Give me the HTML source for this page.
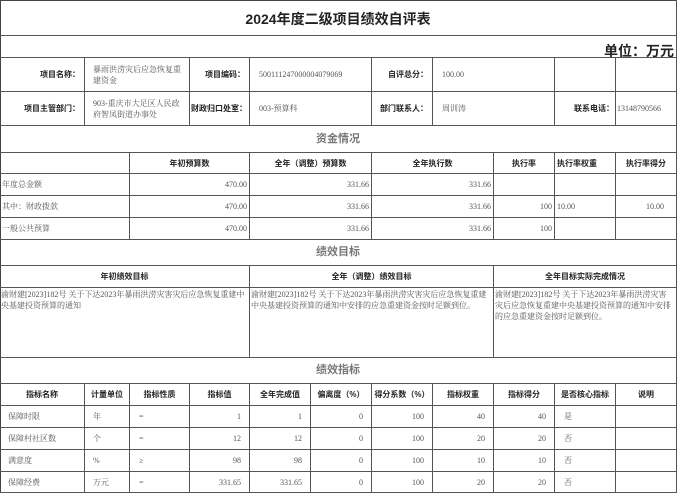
<!DOCTYPE html><html><head><meta charset="utf-8"><style>
body{margin:0;width:677px;height:493px;background:#fff;overflow:hidden;position:relative;font-family:"Liberation Serif","Noto Serif CJK SC",serif}
.c{position:absolute;box-sizing:border-box;border-right:1px solid #555;border-bottom:1px solid #555;font-size:8px;color:#555;display:flex;align-items:center;padding:0 2px;line-height:11px;overflow:hidden}
.h{font-family:"Liberation Sans","Noto Sans CJK SC",sans-serif;font-weight:bold;color:#222;justify-content:center;white-space:nowrap}
.r{justify-content:flex-end}
.hr{font-family:"Liberation Sans","Noto Sans CJK SC",sans-serif;font-weight:bold;color:#222;justify-content:flex-end;padding-right:4px;white-space:nowrap}
.s{font-family:"Liberation Sans","Noto Sans CJK SC",sans-serif;font-size:11px;font-weight:bold;color:#777;justify-content:center}
.t{align-items:flex-start;padding-top:1px}
#f{position:absolute;left:0;top:0;width:677px;height:493px;box-sizing:border-box;border-left:1px solid #444;border-top:1px solid #444}
</style></head><body><div id="f"></div>
<div class="c h" style="left:0;top:0;width:677px;height:36px;font-size:14px;padding-top:3px">2024年度二级项目绩效自评表</div>
<div class="c hr" style="left:0;top:36px;width:677px;height:22px;font-size:14px;align-items:flex-end;padding-right:2px">单位：万元</div>
<div class="c hr" style="left:0;top:58px;width:85px;height:34px">项目名称：</div>
<div class="c" style="left:85px;top:58px;width:105px;height:34px;padding-left:8px">暴雨洪涝灾后应急恢复重建资金</div>
<div class="c hr" style="left:190px;top:58px;width:60px;height:34px">项目编码：</div>
<div class="c" style="left:250px;top:58px;width:122px;height:34px;padding-left:9px">500111247000004079069</div>
<div class="c hr" style="left:372px;top:58px;width:61px;height:34px">自评总分：</div>
<div class="c" style="left:433px;top:58px;width:122px;height:34px;padding-left:9px">100.00</div>
<div class="c" style="left:555px;top:58px;width:61px;height:34px"></div>
<div class="c" style="left:616px;top:58px;width:61px;height:34px"></div>
<div class="c hr" style="left:0;top:92px;width:85px;height:34px">项目主管部门：</div>
<div class="c" style="left:85px;top:92px;width:105px;height:34px;padding-left:8px">903-重庆市大足区人民政府智凤街道办事处</div>
<div class="c hr" style="left:190px;top:92px;width:60px;height:34px;padding-right:2px">财政归口处室：</div>
<div class="c" style="left:250px;top:92px;width:122px;height:34px;padding-left:9px">003-预算科</div>
<div class="c hr" style="left:372px;top:92px;width:61px;height:34px">部门联系人：</div>
<div class="c" style="left:433px;top:92px;width:122px;height:34px;padding-left:9px">周训涛</div>
<div class="c hr" style="left:555px;top:92px;width:61px;height:34px;padding-right:1px">联系电话：</div>
<div class="c" style="left:616px;top:92px;width:61px;height:34px;padding-left:1px">13148790566</div>
<div class="c s" style="left:0;top:126px;width:677px;height:27px">资金情况</div>
<div class="c" style="left:0;top:153px;width:130px;height:21px"></div>
<div class="c h" style="left:130px;top:153px;width:120px;height:21px">年初预算数</div>
<div class="c h" style="left:250px;top:153px;width:122px;height:21px">全年（调整）预算数</div>
<div class="c h" style="left:372px;top:153px;width:122px;height:21px">全年执行数</div>
<div class="c h" style="left:494px;top:153px;width:61px;height:21px">执行率</div>
<div class="c h" style="left:555px;top:153px;width:61px;height:21px;justify-content:flex-start">执行率权重</div>
<div class="c h" style="left:616px;top:153px;width:61px;height:21px">执行率得分</div>
<div class="c" style="left:0;top:174px;width:130px;height:22px">年度总金额</div>
<div class="c r" style="left:130px;top:174px;width:120px;height:22px">470.00</div>
<div class="c r" style="left:250px;top:174px;width:122px;height:22px">331.66</div>
<div class="c r" style="left:372px;top:174px;width:122px;height:22px">331.66</div>
<div class="c" style="left:494px;top:174px;width:61px;height:22px"></div>
<div class="c" style="left:555px;top:174px;width:61px;height:22px"></div>
<div class="c" style="left:616px;top:174px;width:61px;height:22px"></div>
<div class="c" style="left:0;top:196px;width:130px;height:22px">其中：财政拨款</div>
<div class="c r" style="left:130px;top:196px;width:120px;height:22px">470.00</div>
<div class="c r" style="left:250px;top:196px;width:122px;height:22px">331.66</div>
<div class="c r" style="left:372px;top:196px;width:122px;height:22px">331.66</div>
<div class="c r" style="left:494px;top:196px;width:61px;height:22px">100</div>
<div class="c" style="left:555px;top:196px;width:61px;height:22px">10.00</div>
<div class="c r" style="left:616px;top:196px;width:61px;height:22px;padding-right:12px">10.00</div>
<div class="c" style="left:0;top:218px;width:130px;height:22px">一般公共预算</div>
<div class="c r" style="left:130px;top:218px;width:120px;height:22px">470.00</div>
<div class="c r" style="left:250px;top:218px;width:122px;height:22px">331.66</div>
<div class="c r" style="left:372px;top:218px;width:122px;height:22px">331.66</div>
<div class="c r" style="left:494px;top:218px;width:61px;height:22px">100</div>
<div class="c" style="left:555px;top:218px;width:61px;height:22px"></div>
<div class="c" style="left:616px;top:218px;width:61px;height:22px"></div>
<div class="c s" style="left:0;top:240px;width:677px;height:26px">绩效目标</div>
<div class="c h" style="left:0;top:266px;width:250px;height:22px">年初绩效目标</div>
<div class="c h" style="left:250px;top:266px;width:244px;height:22px">全年（调整）绩效目标</div>
<div class="c h" style="left:494px;top:266px;width:183px;height:22px">全年目标实际完成情况</div>
<div class="c t" style="left:0;top:288px;width:250px;height:70px;padding-left:1px">渝财建[2023]182号 关于下达2023年暴雨洪涝灾害灾后应急恢复重建中央基建投资预算的通知</div>
<div class="c t" style="left:250px;top:288px;width:244px;height:70px;padding-left:1px">渝财建[2023]182号 关于下达2023年暴雨洪涝灾害灾后应急恢复重建中央基建投资预算的通知中安排的应急重建资金按时足额到位。</div>
<div class="c t" style="left:494px;top:288px;width:183px;height:70px;padding-left:1px">渝财建[2023]182号 关于下达2023年暴雨洪涝灾害灾后应急恢复重建中央基建投资预算的通知中安排的应急重建资金按时足额到位。</div>
<div class="c s" style="left:0;top:358px;width:677px;height:26px">绩效指标</div>
<div class="c h" style="left:0;top:384px;width:85px;height:22px">指标名称</div>
<div class="c h" style="left:85px;top:384px;width:45px;height:22px">计量单位</div>
<div class="c h" style="left:130px;top:384px;width:60px;height:22px">指标性质</div>
<div class="c h" style="left:190px;top:384px;width:60px;height:22px">指标值</div>
<div class="c h" style="left:250px;top:384px;width:61px;height:22px">全年完成值</div>
<div class="c h" style="left:311px;top:384px;width:61px;height:22px">偏离度（%）</div>
<div class="c h" style="left:372px;top:384px;width:61px;height:22px">得分系数（%）</div>
<div class="c h" style="left:433px;top:384px;width:61px;height:22px">指标权重</div>
<div class="c h" style="left:494px;top:384px;width:61px;height:22px">指标得分</div>
<div class="c h" style="left:555px;top:384px;width:61px;height:22px">是否核心指标</div>
<div class="c h" style="left:616px;top:384px;width:61px;height:22px">说明</div>
<div class="c" style="left:0;top:406px;width:85px;height:22px;padding-left:8px">保障时限</div><div class="c" style="left:85px;top:406px;width:45px;height:22px;padding-left:8px">年</div><div class="c" style="left:130px;top:406px;width:60px;height:22px;padding-left:9px">=</div><div class="c r" style="left:190px;top:406px;width:60px;height:22px;padding-right:8px">1</div><div class="c r" style="left:250px;top:406px;width:61px;height:22px;padding-right:8px">1</div><div class="c r" style="left:311px;top:406px;width:61px;height:22px;padding-right:8px">0</div><div class="c r" style="left:372px;top:406px;width:61px;height:22px;padding-right:8px">100</div><div class="c r" style="left:433px;top:406px;width:61px;height:22px;padding-right:8px">40</div><div class="c r" style="left:494px;top:406px;width:61px;height:22px;padding-right:8px">40</div><div class="c" style="left:555px;top:406px;width:61px;height:22px;padding-left:9px">是</div><div class="c" style="left:616px;top:406px;width:61px;height:22px"></div>
<div class="c" style="left:0;top:428px;width:85px;height:22px;padding-left:8px">保障村社区数</div><div class="c" style="left:85px;top:428px;width:45px;height:22px;padding-left:8px">个</div><div class="c" style="left:130px;top:428px;width:60px;height:22px;padding-left:9px">=</div><div class="c r" style="left:190px;top:428px;width:60px;height:22px;padding-right:8px">12</div><div class="c r" style="left:250px;top:428px;width:61px;height:22px;padding-right:8px">12</div><div class="c r" style="left:311px;top:428px;width:61px;height:22px;padding-right:8px">0</div><div class="c r" style="left:372px;top:428px;width:61px;height:22px;padding-right:8px">100</div><div class="c r" style="left:433px;top:428px;width:61px;height:22px;padding-right:8px">20</div><div class="c r" style="left:494px;top:428px;width:61px;height:22px;padding-right:8px">20</div><div class="c" style="left:555px;top:428px;width:61px;height:22px;padding-left:9px">否</div><div class="c" style="left:616px;top:428px;width:61px;height:22px"></div>
<div class="c" style="left:0;top:450px;width:85px;height:22px;padding-left:8px">满意度</div><div class="c" style="left:85px;top:450px;width:45px;height:22px;padding-left:8px">%</div><div class="c" style="left:130px;top:450px;width:60px;height:22px;padding-left:9px">≥</div><div class="c r" style="left:190px;top:450px;width:60px;height:22px;padding-right:8px">98</div><div class="c r" style="left:250px;top:450px;width:61px;height:22px;padding-right:8px">98</div><div class="c r" style="left:311px;top:450px;width:61px;height:22px;padding-right:8px">0</div><div class="c r" style="left:372px;top:450px;width:61px;height:22px;padding-right:8px">100</div><div class="c r" style="left:433px;top:450px;width:61px;height:22px;padding-right:8px">10</div><div class="c r" style="left:494px;top:450px;width:61px;height:22px;padding-right:8px">10</div><div class="c" style="left:555px;top:450px;width:61px;height:22px;padding-left:9px">否</div><div class="c" style="left:616px;top:450px;width:61px;height:22px"></div>
<div class="c" style="left:0;top:472px;width:85px;height:21px;padding-left:8px">保障经费</div><div class="c" style="left:85px;top:472px;width:45px;height:21px;padding-left:8px">万元</div><div class="c" style="left:130px;top:472px;width:60px;height:21px;padding-left:9px">=</div><div class="c r" style="left:190px;top:472px;width:60px;height:21px;padding-right:8px">331.65</div><div class="c r" style="left:250px;top:472px;width:61px;height:21px;padding-right:8px">331.65</div><div class="c r" style="left:311px;top:472px;width:61px;height:21px;padding-right:8px">0</div><div class="c r" style="left:372px;top:472px;width:61px;height:21px;padding-right:8px">100</div><div class="c r" style="left:433px;top:472px;width:61px;height:21px;padding-right:8px">20</div><div class="c r" style="left:494px;top:472px;width:61px;height:21px;padding-right:8px">20</div><div class="c" style="left:555px;top:472px;width:61px;height:21px;padding-left:9px">否</div><div class="c" style="left:616px;top:472px;width:61px;height:21px"></div>
</body></html>
